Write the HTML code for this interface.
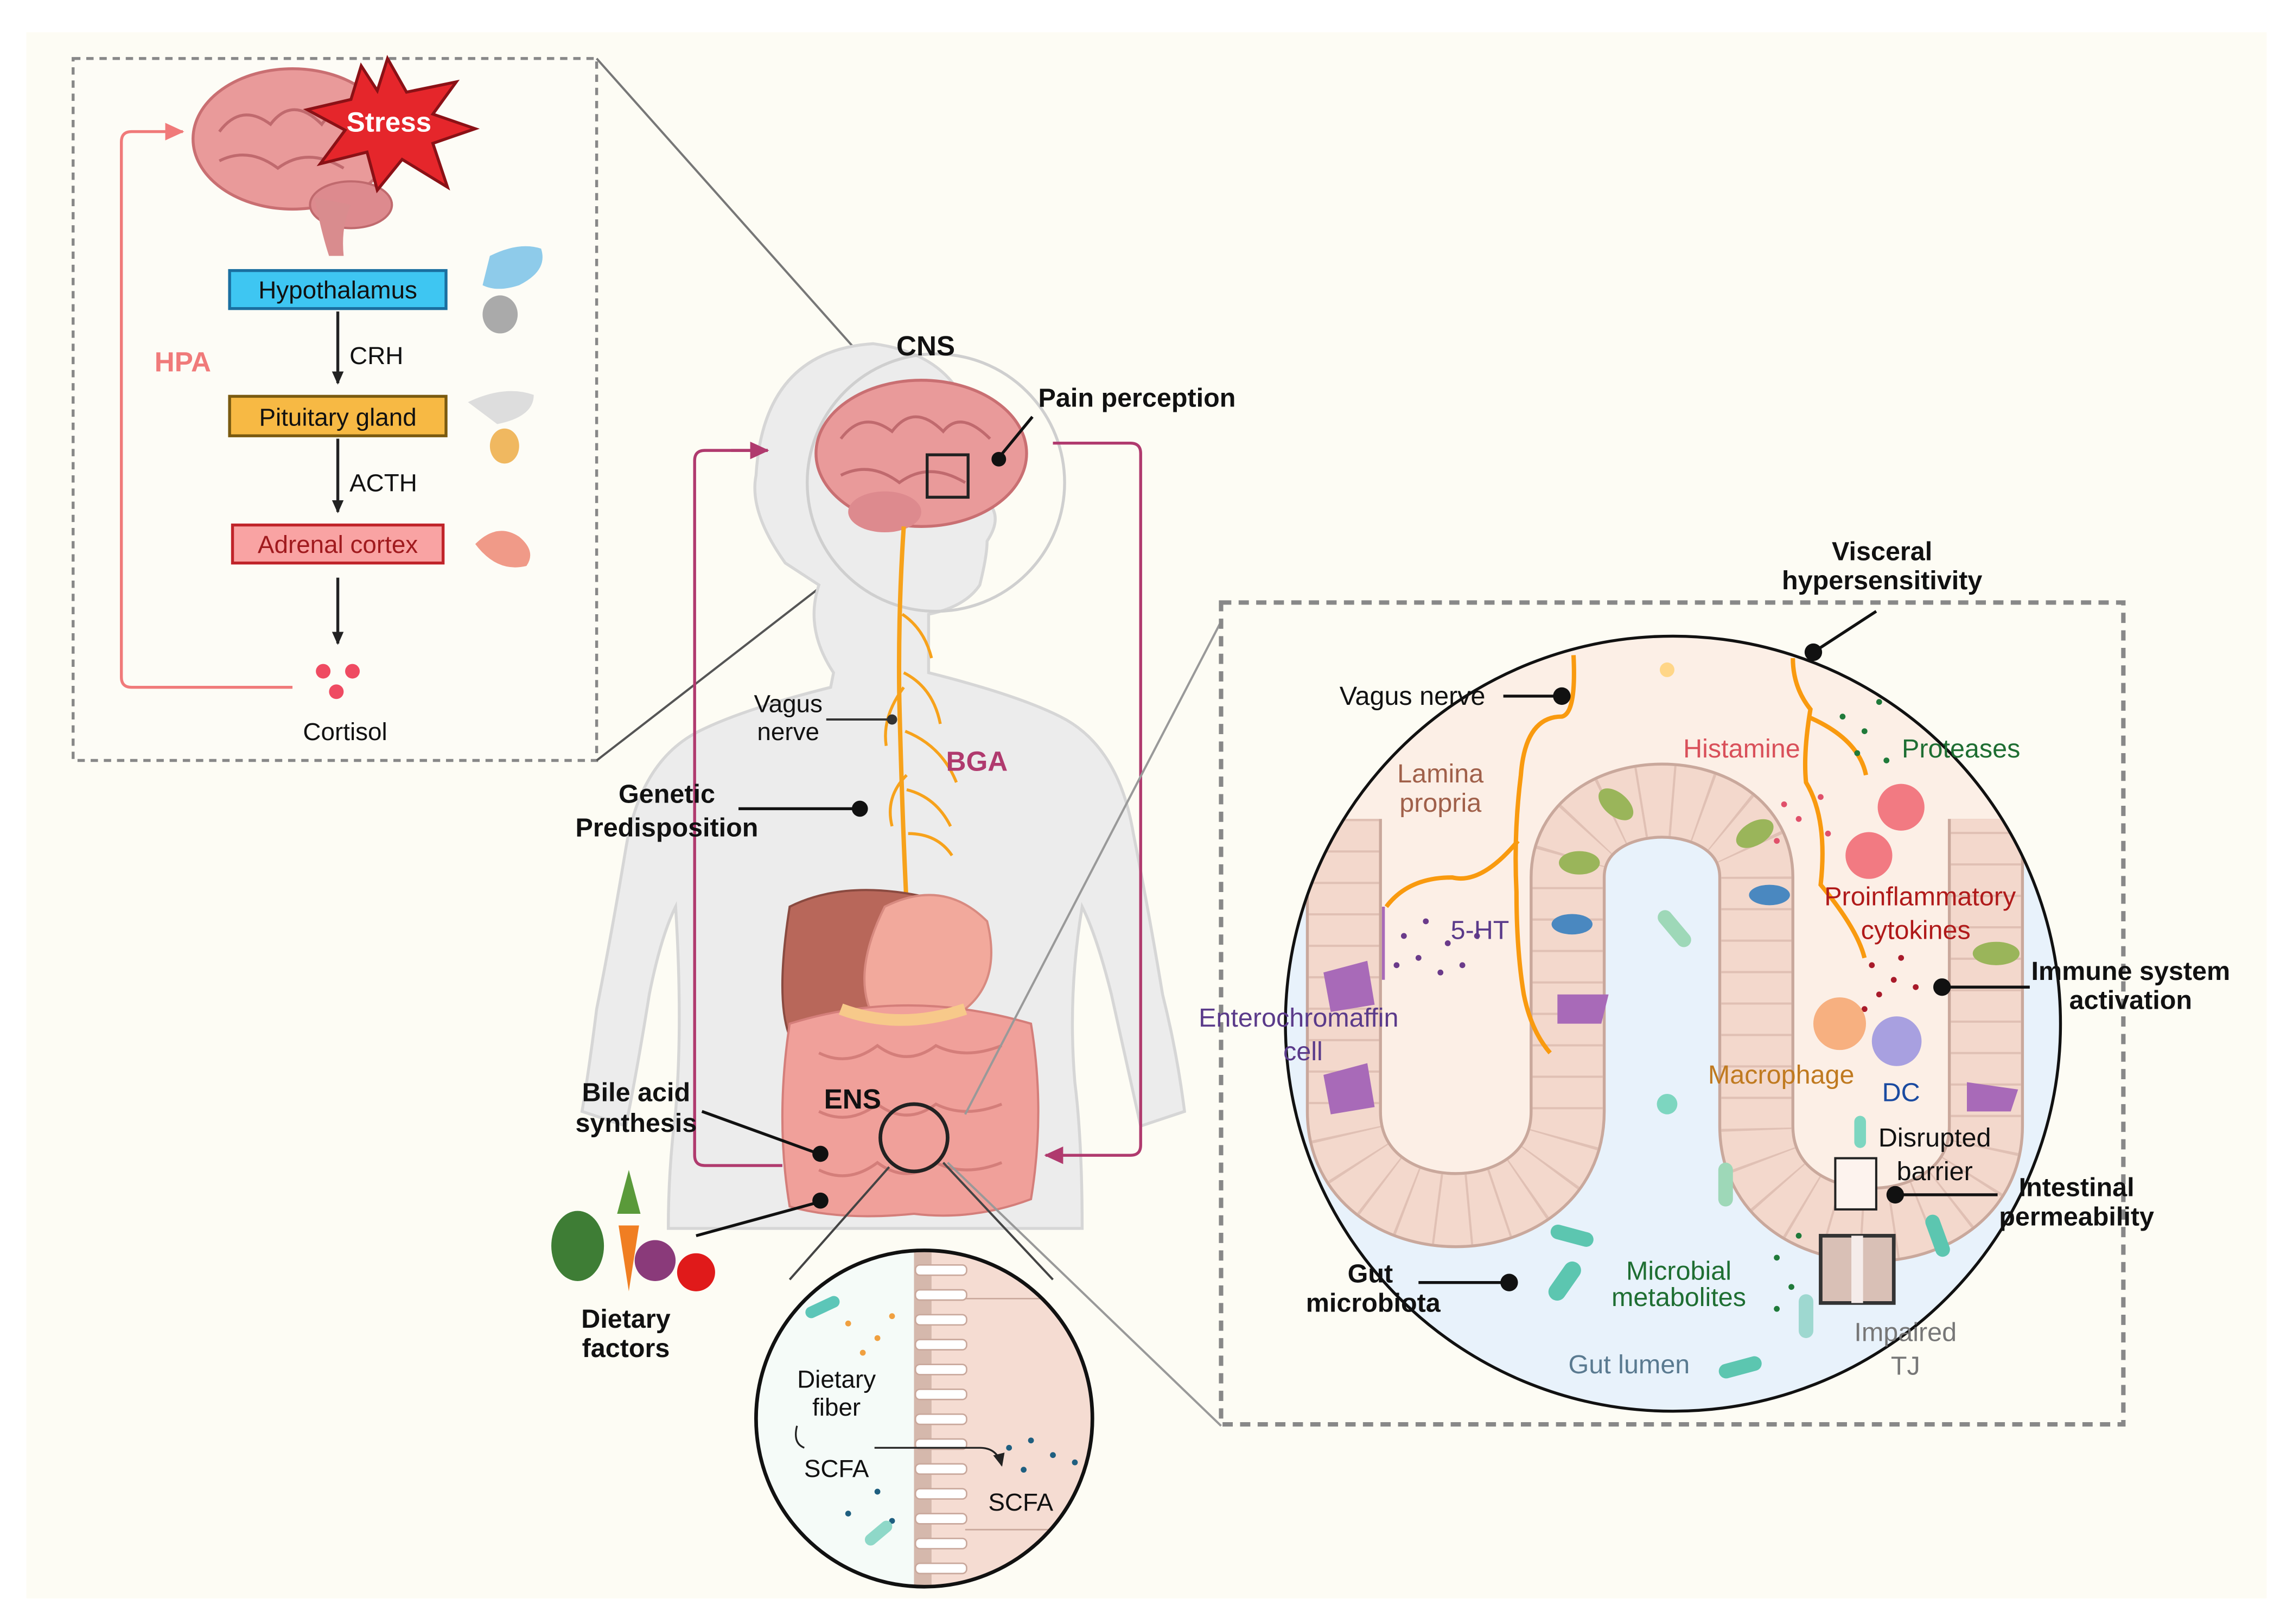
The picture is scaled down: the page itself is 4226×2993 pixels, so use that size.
<!DOCTYPE html>
<html><head><meta charset="utf-8"><style>
html,body{margin:0;padding:0;background:#fff}
svg{display:block}
text{font-family:"Liberation Sans",sans-serif}
</style></head><body>
<svg width="4226" height="2993" viewBox="0 0 1568 1110.5" xmlns="http://www.w3.org/2000/svg">
<defs>
<clipPath id="bc"><circle cx="1144" cy="700" r="265"/></clipPath>
<clipPath id="sc"><circle cx="632" cy="970" r="115"/></clipPath>
<marker id="ak" markerWidth="10" markerHeight="10" refX="8" refY="5" orient="auto" markerUnits="userSpaceOnUse"><path d="M0,1 L9,5 L0,9 Z" fill="#222"/></marker>
<marker id="ap" markerWidth="14" markerHeight="14" refX="12" refY="7" orient="auto" markerUnits="userSpaceOnUse"><path d="M0,1 L13,7 L0,13 Z" fill="#b03a6e"/></marker>
<marker id="ar" markerWidth="14" markerHeight="14" refX="12" refY="7" orient="auto" markerUnits="userSpaceOnUse"><path d="M0,1 L13,7 L0,13 Z" fill="#f07a7a"/></marker>
</defs>
<rect width="1568" height="1111" fill="#fff"/>
<rect x="18" y="22" width="1532" height="1071" fill="#fdfcf4"/>

<!-- left dashed box -->
<rect x="50" y="40" width="358" height="480" fill="#fdfcf6" stroke="#888" stroke-width="2" stroke-dasharray="5,4"/>
<!-- brain top-left -->
<ellipse cx="200" cy="95" rx="68" ry="48" fill="#e99a9a" stroke="#c96f72" stroke-width="2"/>
<path d="M150 90 q15 -20 35 -5 q15 -20 35 0 q10 -15 30 5 M150 110 q20 -10 40 5 q20 -15 45 0" fill="none" stroke="#c06a6e" stroke-width="2"/>
<ellipse cx="240" cy="140" rx="28" ry="16" fill="#dd8a8e" stroke="#c06a6e" stroke-width="1.5"/>
<path d="M215 135 q5 25 10 40 l10 0 q-2 -20 5 -35z" fill="#d98c8e"/>
<polygon points="265,40 278,63 312,56 296,78 325,88 296,98 306,128 275,109 258,130 251,104 219,112 236,89 210,75 240,68 247,45 258,62" fill="#e5262b" stroke="#8b1116" stroke-width="2"/>
<text x="266" y="90" font-size="19" font-weight="bold" fill="#fff" text-anchor="middle">Stress</text>

<rect x="157" y="185" width="148" height="26" fill="#3ec6f2" stroke="#1a6fa0" stroke-width="2"/>
<text x="231" y="204" font-size="17" text-anchor="middle" fill="#111">Hypothalamus</text>
<line x1="231" y1="213" x2="231" y2="262" stroke="#222" stroke-width="2" marker-end="url(#ak)"/>
<text x="239" y="249" font-size="17" fill="#111">CRH</text>
<rect x="157" y="271" width="148" height="27" fill="#f7b944" stroke="#7a5a10" stroke-width="2"/>
<text x="231" y="291" font-size="17" text-anchor="middle" fill="#111">Pituitary gland</text>
<line x1="231" y1="300" x2="231" y2="350" stroke="#222" stroke-width="2" marker-end="url(#ak)"/>
<text x="239" y="336" font-size="17" fill="#111">ACTH</text>
<rect x="159" y="359" width="144" height="26" fill="#f9a3a3" stroke="#c0242a" stroke-width="2"/>
<text x="231" y="378" font-size="17" text-anchor="middle" fill="#a01a1e">Adrenal cortex</text>
<line x1="231" y1="395" x2="231" y2="440" stroke="#222" stroke-width="2" marker-end="url(#ak)"/>
<circle cx="221" cy="459" r="5" fill="#ef4b62"/><circle cx="241" cy="459" r="5" fill="#ef4b62"/><circle cx="230" cy="473" r="5" fill="#ef4b62"/>
<text x="236" y="506" font-size="17" text-anchor="middle" fill="#111">Cortisol</text>
<path d="M200 470 H90 q-7 0 -7 -7 V97 q0 -7 7 -7 H125" fill="none" stroke="#f07a7a" stroke-width="2" marker-end="url(#ar)"/>
<text x="125" y="254" font-size="19" font-weight="bold" fill="#f07a7a" text-anchor="middle">HPA</text>
<!-- small icons -->
<path d="M335 175 q20 -10 35 -5 q5 15 -15 25 q-15 5 -25 0z" fill="#8ecbea"/>
<ellipse cx="342" cy="215" rx="12" ry="13" fill="#aaa"/>
<path d="M320 275 q25 -12 45 -5 q0 15 -25 20z" fill="#ddd"/>
<ellipse cx="345" cy="305" rx="10" ry="12" fill="#f0b860"/>
<path d="M325 372 q15 -15 30 -5 q12 10 5 20 q-20 5 -35 -15z" fill="#f09a88"/>

<!-- connector lines from brain square -->
<line x1="408" y1="40" x2="650" y2="312" stroke="#777" stroke-width="1.5"/>
<line x1="408" y1="520" x2="612" y2="362" stroke="#555" stroke-width="1.5"/>

<!-- human body -->
<path d="M560 400 q-10 30 10 60 l-2 10 q-60 15 -90 30 q-40 20 -50 80 q-10 60 -20 110 q-5 40 -10 70 l30 10 q8 -40 16 -90 q8 -40 18 -60 q5 80 0 140 q-5 40 -5 80 L740 840 q0 -60 -5 -100 q-5 -60 5 -120 q10 20 20 60 q10 45 20 90 l30 -10 q-5 -40 -15 -80 q-10 -60 -20 -110 q-10 -60 -50 -80 q-30 -15 -90 -30 l0 -40 q25 -5 35 -20 q5 -20 5 -30 q10 -15 2 -25 q-5 -10 -10 -20 q5 -80 -70 -90 q-75 5 -80 90 q-5 25 20 60z" fill="#ececec" stroke="#d6d6d6" stroke-width="2"/>
<circle cx="640" cy="330" r="88" fill="none" stroke="#cfcfcf" stroke-width="2"/>
<!-- brain in head -->
<ellipse cx="630" cy="310" rx="72" ry="50" fill="#e99a9a" stroke="#c96f72" stroke-width="2"/>
<path d="M575 300 q15 -20 35 -5 q15 -20 35 0 q12 -15 32 5 M575 325 q20 -10 40 5 q20 -15 45 0" fill="none" stroke="#c06a6e" stroke-width="2"/>
<ellipse cx="605" cy="350" rx="25" ry="14" fill="#dd8a8e"/>
<rect x="634" y="311" width="28" height="29" fill="none" stroke="#222" stroke-width="2"/>
<!-- vagus nerve -->
<path d="M618 360 q-4 60 -3 120 q2 80 5 140 q0 40 2 80" fill="none" stroke="#f7a21b" stroke-width="3"/>
<path d="M617 420 q15 10 20 30 M618 460 q20 10 25 35 M619 500 q25 10 35 35 M620 540 q20 5 30 25 M618 470 q-15 20 -12 40 M620 530 q-15 15 -10 35 M621 570 q20 0 30 15" fill="none" stroke="#f7a21b" stroke-width="2"/>
<!-- organs -->
<path d="M540 620 q40 -20 100 -5 q10 40 -20 70 q-40 10 -65 40 q-30 -10 -15 -105z" fill="#b8675a" stroke="#8a4a40" stroke-width="1.5"/>
<path d="M605 620 q40 -20 70 10 q10 40 -15 60 q-30 15 -60 10 q-20 -30 5 -80z" fill="#f2a99c" stroke="#d88a80" stroke-width="1.5"/>
<path d="M540 700 q80 -25 165 0 q10 60 0 120 q-40 15 -80 10 q-50 5 -85 -5 q-10 -60 0 -125z" fill="#f0a09a" stroke="#d47e7a" stroke-width="1.5"/>
<path d="M560 720 q20 10 40 -5 q20 15 40 0 q20 10 45 0 M560 760 q20 10 40 -5 q20 15 40 0 q20 10 45 0 M560 800 q20 10 40 -5 q20 15 40 0 q20 10 45 0" fill="none" stroke="#d47e7a" stroke-width="2"/>
<path d="M575 690 q40 15 85 0" fill="none" stroke="#f7c98a" stroke-width="8"/>
<circle cx="625" cy="778" r="23" fill="none" stroke="#222" stroke-width="2.5"/>
<text x="583" y="758" font-size="19" font-weight="bold" text-anchor="middle" fill="#111">ENS</text>

<!-- purple loop -->
<path d="M525 308 H482 q-7 0 -7 7 V790 q0 7 7 7 H535" fill="none" stroke="#b03a6e" stroke-width="2" marker-start="none"/>
<line x1="500" y1="308" x2="525" y2="308" stroke="#b03a6e" stroke-width="2" marker-end="url(#ap)"/>
<path d="M720 303 H773 q7 0 7 7 V783 q0 7 -7 7 H715" fill="none" stroke="#b03a6e" stroke-width="2" marker-end="url(#ap)"/>

<!-- labels body -->
<text x="633" y="243" font-size="19" font-weight="bold" text-anchor="middle" fill="#111">CNS</text>
<text x="710" y="278" font-size="18" font-weight="bold" fill="#111">Pain perception</text>
<line x1="706" y1="285" x2="683" y2="313" stroke="#111" stroke-width="2"/><circle cx="683" cy="314" r="5" fill="#111"/>
<text x="539" y="487" font-size="17" text-anchor="middle" fill="#111">Vagus</text>
<text x="539" y="506" font-size="17" text-anchor="middle" fill="#111">nerve</text>
<line x1="565" y1="492" x2="609" y2="492" stroke="#333" stroke-width="1.5"/><circle cx="610" cy="492" r="3.5" fill="#333"/>
<text x="668" y="527" font-size="19" font-weight="bold" text-anchor="middle" fill="#b03a6e">BGA</text>
<text x="456" y="549" font-size="18" font-weight="bold" text-anchor="middle" fill="#111">Genetic</text>
<text x="456" y="572" font-size="18" font-weight="bold" text-anchor="middle" fill="#111">Predisposition</text>
<line x1="505" y1="553" x2="588" y2="553" stroke="#111" stroke-width="2"/><circle cx="588" cy="553" r="5.5" fill="#111"/>
<text x="435" y="753" font-size="18" font-weight="bold" text-anchor="middle" fill="#111">Bile acid</text>
<text x="435" y="774" font-size="18" font-weight="bold" text-anchor="middle" fill="#111">synthesis</text>
<line x1="480" y1="760" x2="560" y2="789" stroke="#111" stroke-width="2"/><circle cx="561" cy="789" r="5.5" fill="#111"/>
<line x1="476" y1="845" x2="560" y2="822" stroke="#111" stroke-width="2"/><circle cx="561" cy="821" r="5.5" fill="#111"/>
<text x="428" y="908" font-size="18" font-weight="bold" text-anchor="middle" fill="#111">Dietary</text>
<text x="428" y="928" font-size="18" font-weight="bold" text-anchor="middle" fill="#111">factors</text>
<!-- food -->
<ellipse cx="395" cy="852" rx="18" ry="24" fill="#3e7d35"/>
<path d="M423 838 l7 45 l7 -45z" fill="#f07e22"/><path d="M430 800 l-8 30 l16 0z" fill="#5a9a3a"/>
<circle cx="448" cy="862" r="14" fill="#8a3a7a"/>
<circle cx="476" cy="870" r="13" fill="#e01a1a"/>

<!-- small magnified circle -->
<line x1="608" y1="798" x2="540" y2="875" stroke="#444" stroke-width="1.5"/>
<line x1="645" y1="795" x2="720" y2="875" stroke="#444" stroke-width="1.5"/>
<g clip-path="url(#sc)">
<rect x="517" y="855" width="232" height="232" fill="#f5fbf8"/>
<rect x="630" y="855" width="120" height="232" fill="#f5dcd2"/>
<rect x="625" y="855" width="12" height="232" fill="#d5b8ac"/>
<g fill="#fff" stroke="#c9a89c" stroke-width="1">
<rect x="626" y="865" width="35" height="7" rx="3"/><rect x="626" y="882" width="35" height="7" rx="3"/><rect x="626" y="899" width="35" height="7" rx="3"/><rect x="626" y="916" width="35" height="7" rx="3"/><rect x="626" y="933" width="35" height="7" rx="3"/><rect x="626" y="950" width="35" height="7" rx="3"/><rect x="626" y="967" width="35" height="7" rx="3"/><rect x="626" y="984" width="35" height="7" rx="3"/><rect x="626" y="1001" width="35" height="7" rx="3"/><rect x="626" y="1018" width="35" height="7" rx="3"/><rect x="626" y="1035" width="35" height="7" rx="3"/><rect x="626" y="1052" width="35" height="7" rx="3"/><rect x="626" y="1069" width="35" height="7" rx="3"/>
</g>
<line x1="660" y1="888" x2="750" y2="888" stroke="#c9a89c"/><line x1="660" y1="1046" x2="750" y2="1046" stroke="#c9a89c"/>
<g fill="#1f5f80"><circle cx="690" cy="990" r="2"/><circle cx="705" cy="985" r="2"/><circle cx="720" cy="995" r="2"/><circle cx="735" cy="1000" r="2"/><circle cx="700" cy="1005" r="2"/><circle cx="600" cy="1020" r="2"/><circle cx="580" cy="1035" r="2"/><circle cx="610" cy="1040" r="2"/></g>
<g fill="#f0a040"><circle cx="580" cy="905" r="2"/><circle cx="600" cy="915" r="2"/><circle cx="590" cy="925" r="2"/><circle cx="610" cy="900" r="2"/></g>
<rect x="550" y="890" width="25" height="8" rx="4" fill="#5cc6b8" transform="rotate(-25 562 894)"/>
<rect x="590" y="1045" width="22" height="8" rx="4" fill="#8ed8c8" transform="rotate(-40 600 1049)"/>
</g>
<circle cx="632" cy="970" r="115" fill="none" stroke="#111" stroke-width="2.5"/>
<text x="572" y="949" font-size="17" text-anchor="middle" fill="#111">Dietary</text>
<text x="572" y="968" font-size="17" text-anchor="middle" fill="#111">fiber</text>
<text x="572" y="1010" font-size="17" text-anchor="middle" fill="#111">SCFA</text>
<text x="698" y="1033" font-size="17" text-anchor="middle" fill="#111">SCFA</text>
<path d="M598 990 H670 q12 0 15 12" fill="none" stroke="#222" stroke-width="1.2" marker-end="url(#ak)"/>
<path d="M545 975 q-3 12 5 15" fill="none" stroke="#222" stroke-width="1.2"/>

<!-- right dashed box -->
<line x1="835" y1="425" x2="660" y2="762" stroke="#999" stroke-width="1.5"/>
<line x1="835" y1="975" x2="648" y2="795" stroke="#999" stroke-width="1.5"/>
<rect x="835" y="412" width="617" height="562" fill="#fdfcf4" stroke="#888" stroke-width="3" stroke-dasharray="7,5"/>
<text x="1287" y="383" font-size="18" font-weight="bold" text-anchor="middle" fill="#111">Visceral</text>
<text x="1287" y="403" font-size="18" font-weight="bold" text-anchor="middle" fill="#111">hypersensitivity</text>
<line x1="1283" y1="418" x2="1240" y2="446" stroke="#111" stroke-width="2"/>

<g clip-path="url(#bc)">
<rect x="870" y="430" width="550" height="550" fill="#e8f2fb"/>
<path d="M860 420 H1430 V560 H1358 V770 C1358 870 1201 870 1201 770 V600 C1201 520 1072 520 1072 600 V760 C1072 860 919 860 919 760 V560 H860 Z" fill="#fcefe6"/>
<path d="M919 560 V760 C919 850 1072 850 1072 760 V600 C1072 530 1201 530 1201 600 V770 C1201 860 1358 860 1358 770 V560" fill="none" stroke="#c9a89c" stroke-width="52"/>
<path d="M919 560 V760 C919 850 1072 850 1072 760 V600 C1072 530 1201 530 1201 600 V770 C1201 860 1358 860 1358 770 V560" fill="none" stroke="#f3d8cc" stroke-width="48"/>
<path d="M919 560 V760 C919 850 1072 850 1072 760 V600 C1072 530 1201 530 1201 600 V770 C1201 860 1358 860 1358 770 V560" fill="none" stroke="#e0c0b4" stroke-width="48" stroke-dasharray="1.5,20"/>
<!-- cells -->
<path d="M905 665 l30 -8 l5 30 l-30 5z" fill="#a86ab8"/>
<path d="M905 735 l30 -8 l5 30 l-30 5z" fill="#a86ab8"/>
<path d="M1065 680 l35 0 l-5 20 l-30 0z" fill="#a86ab8"/>
<path d="M1345 740 l35 5 l-5 15 l-30 0z" fill="#a86ab8"/>
<ellipse cx="1105" cy="550" rx="14" ry="8" fill="#9ab55a" transform="rotate(40 1105 550)"/>
<ellipse cx="1080" cy="590" rx="14" ry="8" fill="#9ab55a"/>
<ellipse cx="1200" cy="570" rx="14" ry="8" fill="#9ab55a" transform="rotate(-30 1200 570)"/>
<ellipse cx="1365" cy="652" rx="16" ry="8" fill="#9ab55a"/>
<ellipse cx="1075" cy="632" rx="14" ry="7" fill="#4a88c0"/>
<ellipse cx="1210" cy="612" rx="14" ry="7" fill="#4a88c0"/>
<!-- nerves -->
<path d="M1076 448 q2 40 -8 42 q-25 0 -28 40 q-5 40 -3 80 q0 40 5 70 q5 25 18 40" fill="none" stroke="#f99a0f" stroke-width="3"/>
<path d="M1038 575 q-25 30 -45 25 q-30 0 -45 20" fill="none" stroke="#f99a0f" stroke-width="3"/>
<path d="M946 620 v50" stroke="#a86ab8" stroke-width="2"/>
<path d="M1226 450 q0 20 12 35 q-5 30 -3 50 q15 25 10 70 q25 30 30 50 M1236 490 q35 15 40 40" fill="none" stroke="#f99a0f" stroke-width="3"/>
<circle cx="1140" cy="458" r="5" fill="#ffd070" opacity=".8"/>
<!-- dots -->
<g fill="#6a3a8a"><circle cx="960" cy="640" r="2"/><circle cx="975" cy="630" r="2"/><circle cx="990" cy="645" r="2"/><circle cx="970" cy="655" r="2"/><circle cx="1000" cy="660" r="2"/><circle cx="985" cy="665" r="2"/><circle cx="955" cy="660" r="2"/><circle cx="1010" cy="640" r="2"/></g>
<g fill="#e0506a"><circle cx="1220" cy="550" r="2"/><circle cx="1230" cy="560" r="2"/><circle cx="1245" cy="545" r="2"/><circle cx="1215" cy="575" r="2"/><circle cx="1250" cy="570" r="2"/></g>
<g fill="#1f7a3a"><circle cx="1260" cy="490" r="2"/><circle cx="1275" cy="500" r="2"/><circle cx="1285" cy="480" r="2"/><circle cx="1270" cy="515" r="2"/><circle cx="1290" cy="520" r="2"/><circle cx="1215" cy="860" r="2"/><circle cx="1225" cy="880" r="2"/><circle cx="1230" cy="845" r="2"/><circle cx="1215" cy="895" r="2"/></g>
<g fill="#a81a2a"><circle cx="1280" cy="660" r="2"/><circle cx="1295" cy="670" r="2"/><circle cx="1300" cy="655" r="2"/><circle cx="1285" cy="680" r="2"/><circle cx="1310" cy="675" r="2"/><circle cx="1275" cy="690" r="2"/></g>
<!-- immune cells -->
<circle cx="1300" cy="552" r="16" fill="#f27a82"/>
<circle cx="1278" cy="585" r="16" fill="#f27a82"/>
<circle cx="1258" cy="700" r="18" fill="#f7b080"/>
<circle cx="1297" cy="712" r="17" fill="#a8a0e0"/>
<!-- bacteria -->
<rect x="1130" y="630" width="30" height="10" rx="5" fill="#9ed8b8" transform="rotate(50 1145 635)"/>
<rect x="1055" y="870" width="30" height="12" rx="6" fill="#5cc6b0" transform="rotate(-55 1070 876)"/>
<rect x="1060" y="840" width="30" height="10" rx="5" fill="#5cc6b0" transform="rotate(15 1075 845)"/>
<rect x="1175" y="930" width="30" height="10" rx="5" fill="#5cc6b0" transform="rotate(-15 1190 935)"/>
<rect x="1175" y="795" width="10" height="30" rx="5" fill="#9ed8b8"/>
<rect x="1230" y="885" width="10" height="30" rx="5" fill="#9ed8d0"/>
<rect x="1320" y="830" width="10" height="30" rx="5" fill="#5cc6b0" transform="rotate(-20 1325 845)"/>
<circle cx="1140" cy="755" r="7" fill="#7dd6c0"/>
<rect x="1268" y="763" width="8" height="22" rx="4" fill="#7dd6c0"/>
<!-- barrier boxes -->
<rect x="1255" y="792" width="28" height="35" fill="#fdf3ee" stroke="#222" stroke-width="1.5"/>
<rect x="1245" y="845" width="50" height="46" fill="#d9c0b6" stroke="#333" stroke-width="2.5"/>
<rect x="1266" y="845" width="8" height="46" fill="#f5ecea"/>
</g>
<circle cx="1144" cy="700" r="265" fill="none" stroke="#111" stroke-width="2"/>
<circle cx="1240" cy="446" r="6" fill="#111"/>

<g font-size="18">
<text x="916" y="482" fill="#111">Vagus nerve</text>
<line x1="1028" y1="476" x2="1068" y2="476" stroke="#111" stroke-width="2"/><circle cx="1068" cy="476" r="6" fill="#111"/>
<text x="985" y="535" text-anchor="middle" fill="#a0604a">Lamina</text>
<text x="985" y="555" text-anchor="middle" fill="#a0604a">propria</text>
<text x="1191" y="518" text-anchor="middle" fill="#d9505a">Histamine</text>
<text x="1341" y="518" text-anchor="middle" fill="#1e6e32">Proteases</text>
<text x="1313" y="619" text-anchor="middle" fill="#b01a1a">Proinflammatory</text>
<text x="1310" y="642" text-anchor="middle" fill="#b01a1a">cytokines</text>
<text x="1012" y="642" text-anchor="middle" fill="#5a3a8a">5-HT</text>
<text x="888" y="702" text-anchor="middle" fill="#5a3a8a">Enterochromaffin</text>
<text x="891" y="725" text-anchor="middle" fill="#5a3a8a">cell</text>
<text x="1218" y="741" text-anchor="middle" fill="#c07a20">Macrophage</text>
<text x="1300" y="753" text-anchor="middle" fill="#1a4aa0">DC</text>
<text x="1323" y="784" text-anchor="middle" fill="#111">Disrupted</text>
<text x="1323" y="807" text-anchor="middle" fill="#111">barrier</text>
<text x="1148" y="875" text-anchor="middle" fill="#1e6e32">Microbial</text>
<text x="1148" y="893" text-anchor="middle" fill="#1e6e32">metabolites</text>
<text x="1114" y="939" text-anchor="middle" fill="#5a7a90">Gut lumen</text>
<text x="1303" y="917" text-anchor="middle" fill="#777">Impaired</text>
<text x="1303" y="940" text-anchor="middle" fill="#777">TJ</text>
</g>
<g font-size="18" font-weight="bold" fill="#111">
<text x="1457" y="670" text-anchor="middle">Immune system</text>
<text x="1457" y="690" text-anchor="middle">activation</text>
<text x="1420" y="818" text-anchor="middle">Intestinal</text>
<text x="1420" y="838" text-anchor="middle">permeability</text>
<text x="937" y="877" text-anchor="middle">Gut</text>
<text x="939" y="897" text-anchor="middle">microbiota</text>
</g>
<line x1="1328" y1="675" x2="1388" y2="675" stroke="#111" stroke-width="2"/><circle cx="1328" cy="675" r="6" fill="#111"/>
<line x1="1296" y1="817" x2="1366" y2="817" stroke="#111" stroke-width="2"/><circle cx="1296" cy="817" r="6" fill="#111"/>
<line x1="970" y1="877" x2="1032" y2="877" stroke="#111" stroke-width="2"/><circle cx="1032" cy="877" r="6" fill="#111"/>
</svg>
</body></html>
